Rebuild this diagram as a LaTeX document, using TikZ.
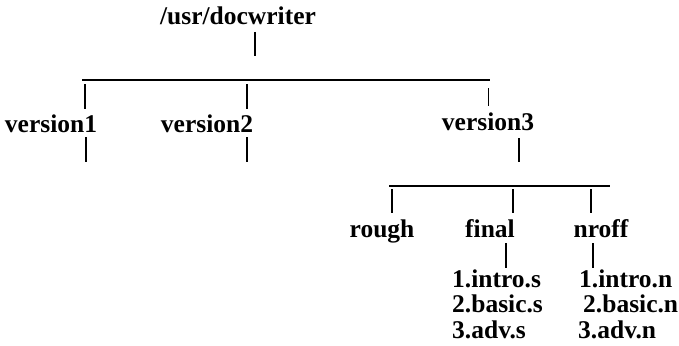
\documentclass[tikz,border=0pt]{standalone}
\usepackage{fontspec}
\setmainfont{Liberation Serif}
\begin{document}
\begin{tikzpicture}[x=1pt,y=-1pt,
  lbl/.style={inner sep=0pt,font=\fontsize{25.5}{28}\selectfont\bfseries},
  vline/.style={line width=1.6pt},
  hline/.style={line width=1.2pt}]
\useasboundingbox (0,0) rectangle (679,345);
% texts
\node[lbl,anchor=base] (root) at (238,25) {/usr/docwriter};
\node[lbl,anchor=base] (v1) at (51,132) {version1};
\node[lbl,anchor=base] (v2) at (207,132) {version2};
\node[lbl,anchor=base] (v3) at (488,130) {version3};
\node[lbl,anchor=base] (rough) at (382,237) {rough};
\node[lbl,anchor=base] (final) at (490,237) {final};
\node[lbl,anchor=base] (nroff) at (601,237) {nroff};
\node[lbl,anchor=base west] (f1) at (452,287) {1.intro.s};
\node[lbl,anchor=base west] (f2) at (452,312) {2.basic.s};
\node[lbl,anchor=base west] (f3) at (452,338) {3.adv.s};
\node[lbl,anchor=base west] (n1) at (579,287) {1.intro.n};
\node[lbl,anchor=base west] (n2) at (583,312) {2.basic.n};
\node[lbl,anchor=base west] (n3) at (578,338) {3.adv.n};
% connectors
\coordinate (rootA) at (255,32); \coordinate (rootB) at (255,56);
\draw[vline] (rootA) -- (rootB);
\coordinate (barL) at (82,80); \coordinate (barR) at (490,80);
\draw[hline] (barL) -- (barR);
\draw[vline] (85,84) -- (85,109);
\draw[vline] (247,84) -- (247,109);
\draw[line width=0.8pt] (488,88) -- (488,106);
\draw[vline] (86,137) -- (86,162);
\draw[vline] (247,137) -- (247,162);
\draw[vline] (519,138) -- (519,162);
\coordinate (bar2L) at (389,186); \coordinate (bar2R) at (610,186);
\draw[hline] (bar2L) -- (bar2R);
\draw[vline] (392,189) -- (392,213);
\draw[vline] (513,189) -- (513,213);
\draw[vline] (591,189) -- (591,213);
\draw[vline] (506,243) -- (506,268);
\draw[vline] (593,243) -- (593,268);
\end{tikzpicture}
\end{document}
